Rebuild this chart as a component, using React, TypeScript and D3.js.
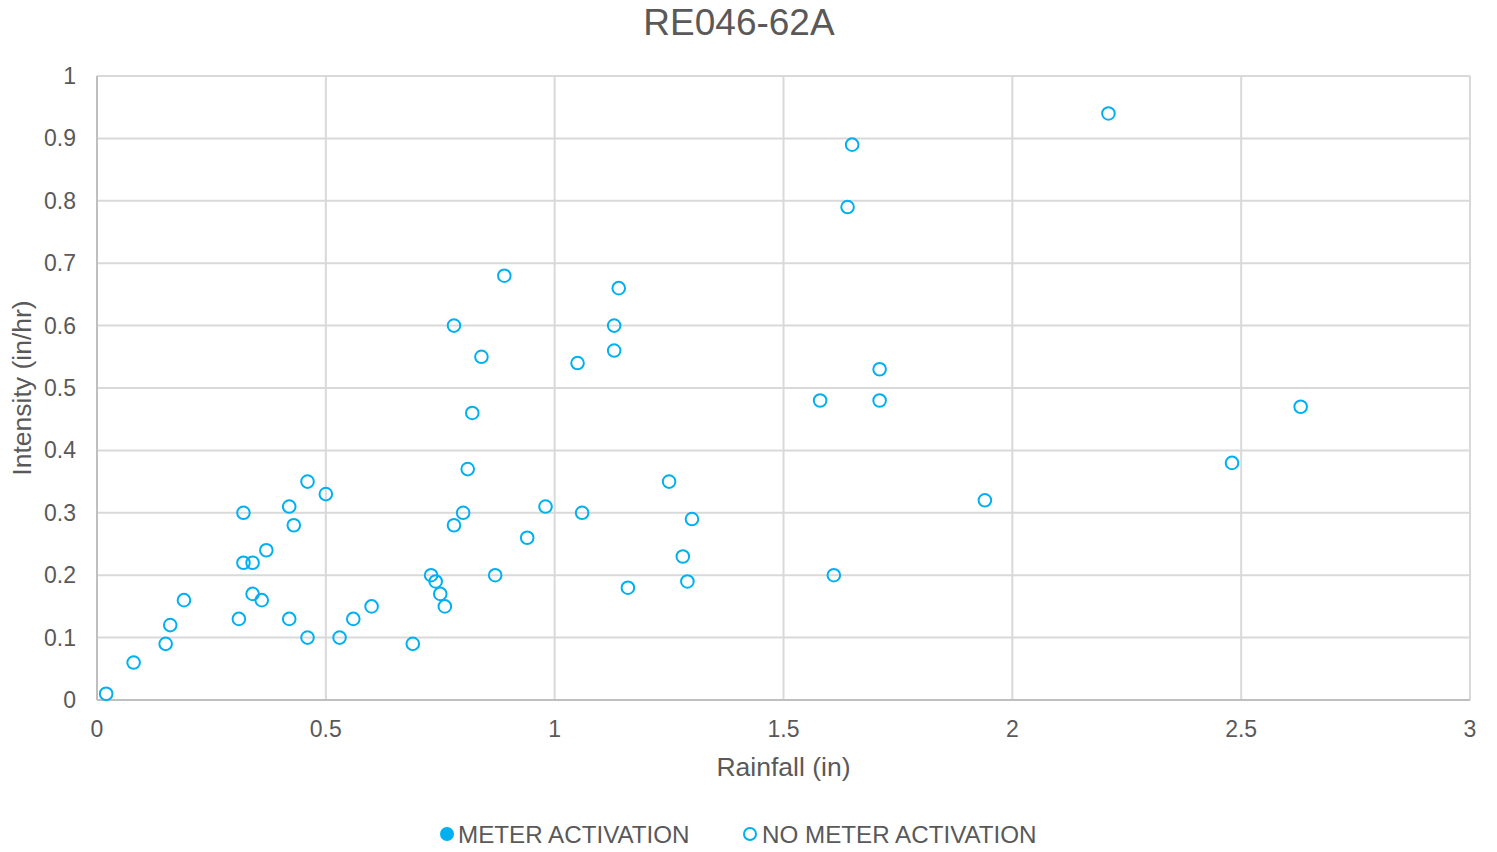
import React from "react";
import * as d3 from "d3";

const rainfall = [0.02, 0.08, 0.15, 0.16, 0.19, 0.31, 0.32, 0.32, 0.34, 0.34, 0.36, 0.37, 0.42, 0.43, 0.42, 0.46, 0.46, 0.5, 0.53, 0.56, 0.6, 0.69, 0.73, 0.74, 0.75, 0.76, 0.78, 0.8, 0.81, 0.82, 0.78, 0.84, 0.89, 0.87, 0.94, 0.98, 1.05, 1.06, 1.13, 1.13, 1.14, 1.16, 1.25, 1.28, 1.29, 1.3, 1.58, 1.61, 1.64, 1.65, 1.71, 1.71, 1.94, 2.21, 2.48, 2.63];
const intensity = [0.01, 0.06, 0.09, 0.12, 0.16, 0.13, 0.3, 0.22, 0.22, 0.17, 0.16, 0.24, 0.31, 0.28, 0.13, 0.35, 0.1, 0.33, 0.1, 0.13, 0.15, 0.09, 0.2, 0.19, 0.17, 0.15, 0.28, 0.3, 0.37, 0.46, 0.6, 0.55, 0.68, 0.2, 0.26, 0.31, 0.54, 0.3, 0.6, 0.56, 0.66, 0.18, 0.35, 0.23, 0.19, 0.29, 0.48, 0.2, 0.79, 0.89, 0.53, 0.48, 0.32, 0.94, 0.38, 0.47];
const meterRainfall: number[] = [];
const meterIntensity: number[] = [];
const xTicks = [0, 0.5, 1, 1.5, 2, 2.5, 3];
const yTicks = [0, 0.1, 0.2, 0.3, 0.4, 0.5, 0.6, 0.7, 0.8, 0.9, 1];
const legendLabels = ["METER ACTIVATION", "NO METER ACTIVATION"];

const W = 1497;
const H = 852;
const M = { left: 97, right: 1470, top: 76, bottom: 700 };
const COLOR = "#00B0F0";
const TEXT = "#595959";
const FONT = "'Liberation Sans', Arial, sans-serif";

export default function App() {
  const x = d3.scaleLinear().domain([0, 3]).range([M.left, M.right]);
  const y = d3.scaleLinear().domain([0, 1]).range([M.bottom, M.top]);
  const fmt = (v: number) => String(+v.toFixed(2));
  return (
    <svg width={W} height={H} style={{ position: "absolute", left: 0, top: 0, fontFamily: FONT }}>
      <rect width={W} height={H} fill="#fff" />
      <text x={739} y={35} textAnchor="middle" fontSize={37} fill={TEXT}>RE046-62A</text>
      {yTicks.map((t) => (
        <line key={"gy" + t} x1={M.left} x2={M.right} y1={y(t)} y2={y(t)} stroke="#D9D9D9" strokeWidth={2} />
      ))}
      {xTicks.map((t) => (
        <line key={"gx" + t} x1={x(t)} x2={x(t)} y1={M.top} y2={M.bottom} stroke="#D9D9D9" strokeWidth={2} />
      ))}
      <line x1={M.left} x2={M.left} y1={M.top} y2={M.bottom} stroke="#BFBFBF" strokeWidth={2} />
      <line x1={M.left} x2={M.right} y1={M.bottom} y2={M.bottom} stroke="#BFBFBF" strokeWidth={2} />
      {yTicks.map((t) => (
        <text key={"ty" + t} x={76} y={y(t) + 8} textAnchor="end" fontSize={23} fill={TEXT}>{fmt(t)}</text>
      ))}
      {xTicks.map((t) => (
        <text key={"tx" + t} x={x(t)} y={737} textAnchor="middle" fontSize={23} fill={TEXT}>{fmt(t)}</text>
      ))}
      <text x={(M.left + M.right) / 2} y={776} textAnchor="middle" fontSize={26.5} fill={TEXT}>Rainfall (in)</text>
      <text transform={`translate(31,${(M.top + M.bottom) / 2}) rotate(-90)`} textAnchor="middle" fontSize={26.5} fill={TEXT}>Intensity (in/hr)</text>
      {meterRainfall.map((r, i) => (
        <circle key={"m" + i} cx={x(r)} cy={y(meterIntensity[i])} r={6.5} fill={COLOR} />
      ))}
      {rainfall.map((r, i) => (
        <circle key={"p" + i} cx={x(r)} cy={y(intensity[i])} r={6.3} fill="none" stroke={COLOR} strokeWidth={2} />
      ))}
      <circle cx={447} cy={834} r={7} fill={COLOR} />
      <text x={458} y={843} fontSize={24.2} fill={TEXT}>{legendLabels[0]}</text>
      <circle cx={750} cy={834} r={6} fill="none" stroke={COLOR} strokeWidth={2} />
      <text x={762} y={843} fontSize={24.2} fill={TEXT}>{legendLabels[1]}</text>
    </svg>
  );
}
